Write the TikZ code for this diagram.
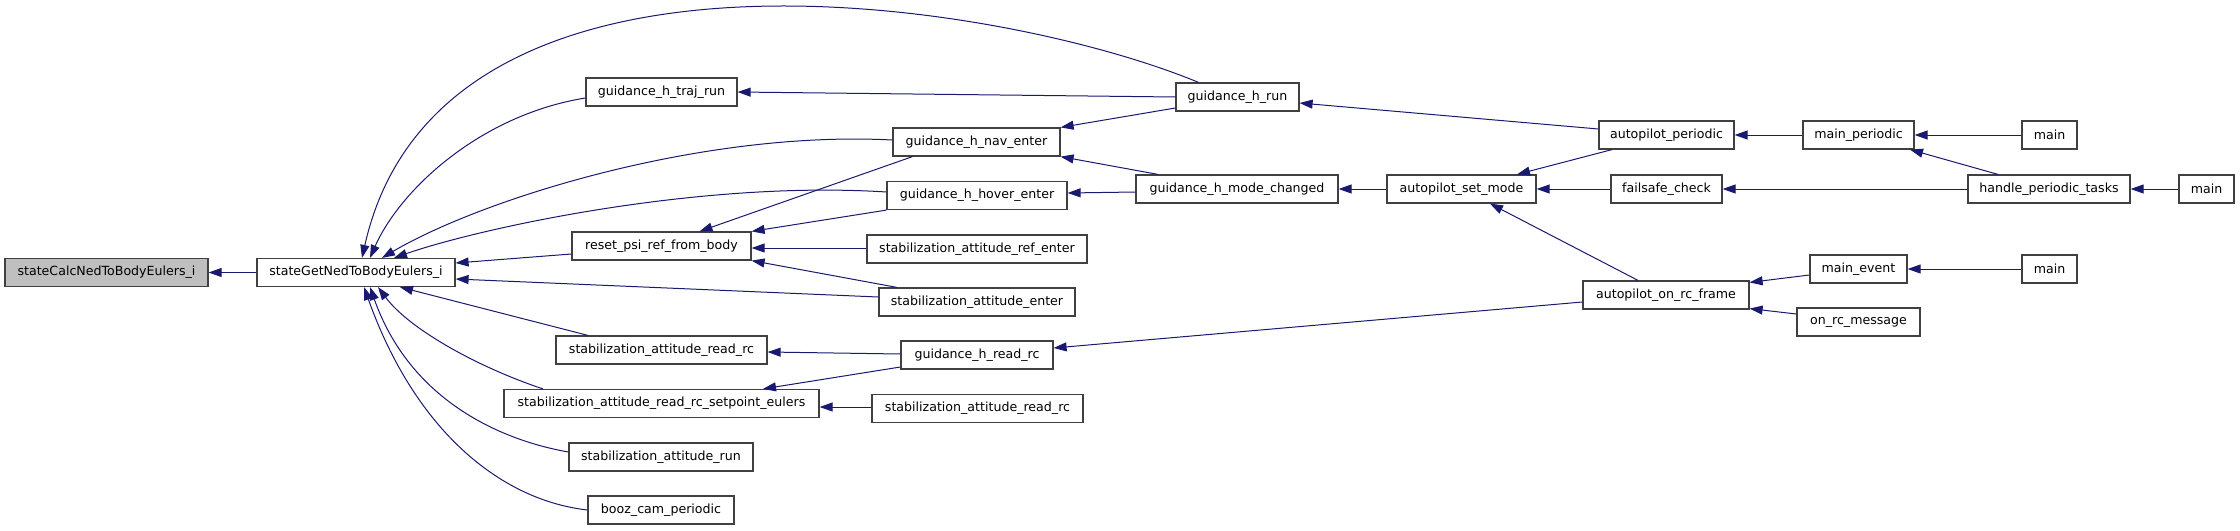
\documentclass[tikz,border=0pt]{standalone}
\usepackage{fontspec}
\newfontfamily\fnfont{DejaVu Sans}
\usetikzlibrary{arrows.meta}
\definecolor{edgecol}{HTML}{191970}
\definecolor{boxcol}{HTML}{404040}
\definecolor{rootfill}{HTML}{BFBFBF}
\begin{document}
\begin{tikzpicture}[
    x=1pt, y=-1pt,
    fn/.style={draw=boxcol, fill=white, line width=1.2pt, minimum height=28pt, inner sep=0pt,
               font={\fnfont\fontsize{12.6}{15}\selectfont}},
    root/.style={fn, fill=rootfill},
    call/.style={-{Triangle[length=13pt,width=9pt]}, draw=edgecol, line width=1pt}
]
\useasboundingbox (0,0) rectangle (2240,530);

\node[root, minimum width=203pt] (calc) at (106.5,272.5) {stateCalcNedToBodyEulers\_i};
\node[fn, minimum width=198pt] (get) at (356,272.5) {stateGetNedToBodyEulers\_i};

\node[fn, minimum width=151pt] (trajrun) at (661.5,92) {guidance\_h\_traj\_run};
\node[fn, minimum width=179pt] (resetpsi) at (661.5,246) {reset\_psi\_ref\_from\_body};
\node[fn, minimum width=211pt] (readrc) at (661.5,350) {stabilization\_attitude\_read\_rc};
\node[fn, minimum width=315pt] (setpoint) at (661.5,403.5) {stabilization\_attitude\_read\_rc\_setpoint\_eulers};
\node[fn, minimum width=184pt] (attrun) at (661,457) {stabilization\_attitude\_run};
\node[fn, minimum width=146pt] (booz) at (661,510) {booz\_cam\_periodic};

\node[fn, minimum width=167pt] (naventer) at (976.5,142) {guidance\_h\_nav\_enter};
\node[fn, minimum width=180pt] (hoverenter) at (977,195.5) {guidance\_h\_hover\_enter};
\node[fn, minimum width=220pt] (refenter) at (977,249) {stabilization\_attitude\_ref\_enter};
\node[fn, minimum width=196pt] (attenter) at (977,302) {stabilization\_attitude\_enter};
\node[fn, minimum width=152pt] (hreadrc) at (977,355) {guidance\_h\_read\_rc};
\node[fn, minimum width=211pt] (readrctwo) at (977.5,408.5) {stabilization\_attitude\_read\_rc};

\node[fn, minimum width=123pt] (hrun) at (1237.5,97) {guidance\_h\_run};
\node[fn, minimum width=202pt] (modechanged) at (1237,189) {guidance\_h\_mode\_changed};
\node[fn, minimum width=149pt] (setmode) at (1461.5,189) {autopilot\_set\_mode};

\node[fn, minimum width=135pt] (appriodic) at (1666.5,135) {autopilot\_periodic};
\node[fn, minimum width=111pt] (failsafe) at (1666.5,189) {failsafe\_check};
\node[fn, minimum width=166pt] (onrcframe) at (1666,295) {autopilot\_on\_rc\_frame};

\node[fn, minimum width=111pt] (mainperiodic) at (1858.5,135) {main\_periodic};
\node[fn, minimum width=97pt] (mainevent) at (1858.5,269) {main\_event};
\node[fn, minimum width=123pt] (onrcmsg) at (1858.5,322) {on\_rc\_message};

\node[fn, minimum width=162pt] (handle) at (2049,189) {handle\_periodic\_tasks};
\node[fn, minimum width=55pt] (mainone) at (2049.5,135) {main};
\node[fn, minimum width=55pt] (mainthree) at (2049.5,269) {main};
\node[fn, minimum width=55pt] (maintwo) at (2206.5,189) {main};

\draw[call] (get) -- (calc);
\draw[call] ([xshift=-39pt]hrun.north) .. controls (1000,0) and (440,-90) .. ([xshift=6pt]get.north);
\draw[call] ([yshift=-6pt]trajrun.west) .. controls (480,115) and (400,190) .. ([xshift=14pt]get.north);
\draw[call] ([yshift=2pt]naventer.west) .. controls (700,130) and (480,200) .. ([xshift=26pt]get.north);
\draw[call] ([yshift=3.5pt]hoverenter.west) .. controls (700,180) and (480,228) .. ([xshift=38pt]get.north);
\draw[call] ([yshift=-8pt]resetpsi.west) -- ([yshift=9.5pt]get.east);
\draw[call] ([yshift=5pt]attenter.west) -- ([yshift=-6.5pt]get.east);
\draw[call] ([xshift=-73.5pt]readrc.north) -- ([xshift=44pt]get.south);
\draw[call] ([xshift=-118.5pt]setpoint.north) .. controls (480,368) and (410,330) .. ([xshift=22pt]get.south);
\draw[call] ([yshift=5pt]attrun.west) .. controls (500,440) and (410,400) .. ([xshift=14pt]get.south);
\draw[call] (booz.west) .. controls (500,500) and (415,430) .. ([xshift=8pt]get.south);

\draw[call] (hrun.west) -- (trajrun.east);
\draw[call] ([yshift=-11pt]hrun.west) -- (naventer.north east);
\draw[call] ([xshift=-79pt]modechanged.north) -- (naventer.south east);
\draw[call] ([xshift=-64pt]naventer.south) -- ([xshift=38pt]resetpsi.north);
\draw[call] (hoverenter.south west) -- (resetpsi.north east);
\draw[call] ([yshift=1pt]refenter.west) -- ([yshift=-2pt]resetpsi.east);
\draw[call] ([xshift=-80pt]attenter.north) -- (resetpsi.south east);
\draw[call] ([yshift=-3pt]modechanged.west) -- ([yshift=2.5pt]hoverenter.east);
\draw[call] ([yshift=1pt]hreadrc.west) -- ([yshift=-2pt]readrc.east);
\draw[call] ([yshift=-12pt]hreadrc.west) -- ([xshift=101.5pt]setpoint.north);
\draw[call] ([yshift=1.5pt]readrctwo.west) -- ([yshift=-3.5pt]setpoint.east);

\draw[call] ([yshift=6pt]appriodic.west) -- ([yshift=-6pt]hrun.east);
\draw[call] (setmode) -- (modechanged);
\draw[call] ([yshift=-7pt]onrcframe.west) -- ([yshift=7pt]hreadrc.east);
\draw[call] ([xshift=-54.5pt]appriodic.south) -- ([xshift=55.5pt]setmode.north);
\draw[call] (failsafe) -- (setmode);
\draw[call] ([xshift=-28pt]onrcframe.north) -- ([xshift=28.5pt]setmode.south);

\draw[call] (mainperiodic) -- (appriodic);
\draw[call] (mainone) -- (mainperiodic);
\draw[call] ([xshift=-51pt]handle.north) -- ([xshift=51.5pt]mainperiodic.south);
\draw[call] (handle) -- (failsafe);
\draw[call] (maintwo) -- (handle);
\draw[call] ([yshift=-6pt]mainevent.west) -- ([yshift=-2pt]onrcframe.north east);
\draw[call] ([yshift=8pt]onrcmsg.west) -- ([yshift=1pt]onrcframe.south east);
\draw[call] (mainthree) -- (mainevent);
\end{tikzpicture}
\end{document}
